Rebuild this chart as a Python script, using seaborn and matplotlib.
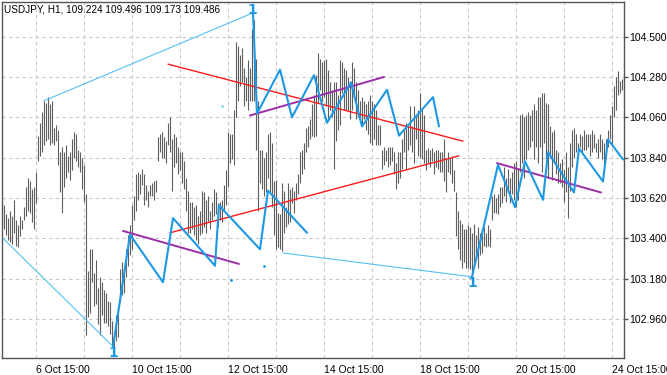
"""
USDJPY H1 - barras com zigzag e linhas de tendencia
"""

import numpy as np
import pandas as pd
import matplotlib
matplotlib.use('Agg')
import matplotlib.pyplot as plt
import seaborn as sns

symbol_text = "USDJPY, H1, 109.224 109.496 109.173 109.486"

# maxima / minima de cada barra H1 (310 barras)
highs = [
    103.58, 103.53, 103.51, 103.55, 103.52, 103.61, 103.50, 103.47, 103.52, 103.50,
    103.57, 103.68, 103.73, 103.71, 103.67, 103.68, 103.76, 103.96, 104.03, 104.09,
    104.15, 104.14, 104.17, 104.13, 104.15, 104.00, 104.02, 103.99, 103.87, 103.90,
    103.87, 103.91, 103.85, 103.87, 103.94, 103.98, 103.97, 103.88, 103.87, 103.84,
    103.80, 103.64, 103.22, 103.34, 103.34, 103.21, 103.28, 103.13, 103.19, 103.16,
    103.12, 103.10, 103.06, 103.05, 102.95, 102.87, 102.98, 103.02, 103.23, 103.27,
    103.24, 103.34, 103.42, 103.47, 103.58, 103.63, 103.75, 103.76, 103.75, 103.78,
    103.75, 103.69, 103.66, 103.69, 103.70, 103.71, 103.72, 103.95, 103.97, 103.98,
    103.95, 103.93, 104.03, 104.06, 103.94, 103.97, 103.95, 103.90, 103.87, 103.87,
    103.82, 103.73, 103.66, 103.60, 103.60, 103.57, 103.58, 103.52, 103.55, 103.66,
    103.65, 103.61, 103.63, 103.55, 103.60, 103.67, 103.65, 103.59, 103.60, 103.61,
    103.69, 103.77, 103.98, 103.97, 103.97, 104.10, 104.47, 104.45, 104.40, 104.44,
    104.33, 104.28, 104.37, 104.33, 104.54, 104.59, 104.38, 104.15, 103.88, 103.88,
    103.84, 103.87, 103.97, 103.98, 103.92, 103.71, 103.72, 103.54, 103.53, 103.70,
    103.66, 103.57, 103.70, 103.67, 103.68, 103.66, 103.70, 103.75, 103.87, 103.88,
    103.92, 104.00, 104.01, 104.05, 104.13, 104.18, 104.29, 104.41, 104.38, 104.36,
    104.37, 104.38, 104.32, 104.25, 104.21, 104.25, 104.25, 104.18, 104.37, 104.36,
    104.33, 104.32, 104.28, 104.26, 104.36, 104.33, 104.25, 104.21, 104.15, 104.17,
    104.15, 104.13, 104.15, 104.18, 104.15, 104.13, 104.10, 104.02, 104.02, 103.88,
    103.90, 103.88, 103.90, 103.90, 103.90, 103.87, 103.81, 103.87, 103.87, 103.94,
    103.99, 104.03, 104.01, 104.12, 104.01, 104.12, 104.07, 104.10, 104.19, 104.10,
    104.07, 103.88, 103.89, 103.88, 103.89, 103.87, 103.88, 103.88, 103.87, 103.87,
    103.94, 103.84, 103.87, 103.84, 103.85, 103.77, 103.65, 103.55, 103.50, 103.48,
    103.45, 103.45, 103.47, 103.46, 103.43, 103.48, 103.42, 103.46, 103.43, 103.45,
    103.46, 103.43, 103.47, 103.45, 103.63, 103.64, 103.62, 103.64, 103.68, 103.68,
    103.79, 103.73, 103.78, 103.73, 103.76, 103.81, 103.82, 103.78, 104.07, 104.08,
    104.06, 104.07, 104.09, 104.07, 104.10, 104.13, 104.10, 104.17, 104.17, 104.19,
    104.19, 104.14, 104.13, 104.01, 103.98, 103.99, 103.88, 103.87, 103.81, 103.83,
    103.77, 103.87, 103.79, 103.92, 103.99, 104.00, 103.97, 103.92, 103.97, 103.96,
    103.99, 103.97, 103.97, 103.97, 103.99, 103.97, 103.92, 103.94, 103.97, 103.94,
    103.92, 103.94, 103.99, 104.07, 104.12, 104.23, 104.28, 104.31, 104.26, 104.27,
]
lows = [
    103.45, 103.42, 103.39, 103.38, 103.37, 103.43, 103.36, 103.35, 103.41, 103.45,
    103.50, 103.52, 103.55, 103.54, 103.49, 103.45, 103.59, 103.82, 103.85, 103.87,
    103.91, 103.93, 103.94, 103.91, 103.92, 103.91, 103.93, 103.80, 103.65, 103.54,
    103.68, 103.73, 103.76, 103.72, 103.77, 103.84, 103.82, 103.79, 103.76, 103.67,
    103.60, 102.87, 102.97, 102.99, 103.16, 103.03, 103.04, 102.93, 102.87, 102.98,
    102.94, 102.94, 102.92, 102.88, 102.82, 102.80, 102.84, 102.86, 103.05, 103.09,
    103.10, 103.19, 103.25, 103.31, 103.34, 103.50, 103.55, 103.61, 103.64, 103.69,
    103.58, 103.61, 103.57, 103.63, 103.63, 103.61, 103.65, 103.82, 103.87, 103.84,
    103.84, 103.81, 103.91, 103.87, 103.66, 103.79, 103.81, 103.75, 103.77, 103.70,
    103.67, 103.55, 103.43, 103.43, 103.45, 103.42, 103.39, 103.37, 103.42, 103.43,
    103.46, 103.43, 103.49, 103.45, 103.50, 103.52, 103.53, 103.46, 103.50, 103.49,
    103.55, 103.58, 103.68, 103.81, 103.83, 103.80, 104.06, 104.15, 104.23, 104.25,
    104.12, 104.15, 104.10, 104.15, 104.15, 104.15, 103.88, 103.55, 103.70, 103.67,
    103.63, 103.65, 103.73, 103.65, 103.57, 103.42, 103.34, 103.35, 103.34, 103.33,
    103.43, 103.46, 103.48, 103.49, 103.59, 103.54, 103.61, 103.64, 103.70, 103.75,
    103.78, 103.87, 103.90, 103.94, 103.96, 103.95, 103.96, 104.14, 104.21, 104.15,
    104.17, 104.12, 104.05, 104.10, 104.06, 103.78, 103.93, 103.99, 104.02, 104.19,
    104.10, 104.10, 104.10, 104.05, 104.10, 104.17, 104.05, 104.06, 104.03, 104.01,
    104.05, 103.99, 103.97, 103.92, 103.91, 103.94, 103.91, 103.91, 103.91, 103.78,
    103.80, 103.82, 103.79, 103.80, 103.82, 103.75, 103.67, 103.70, 103.73, 103.78,
    103.87, 103.78, 103.88, 103.91, 103.87, 103.81, 103.94, 103.85, 103.84, 103.83,
    103.81, 103.77, 103.81, 103.79, 103.82, 103.75, 103.79, 103.78, 103.76, 103.76,
    103.71, 103.65, 103.76, 103.75, 103.70, 103.66, 103.41, 103.34, 103.28, 103.24,
    103.27, 103.24, 103.24, 103.23, 103.19, 103.25, 103.29, 103.24, 103.31, 103.32,
    103.36, 103.35, 103.36, 103.35, 103.50, 103.54, 103.54, 103.53, 103.57, 103.59,
    103.63, 103.60, 103.65, 103.59, 103.64, 103.61, 103.57, 103.61, 103.76, 103.81,
    103.73, 103.83, 103.88, 103.90, 103.93, 103.83, 103.90, 103.81, 103.90, 103.76,
    103.92, 103.83, 103.73, 103.84, 103.72, 103.82, 103.75, 103.70, 103.70, 103.68,
    103.60, 103.65, 103.51, 103.66, 103.79, 103.84, 103.87, 103.84, 103.90, 103.87,
    103.88, 103.88, 103.90, 103.85, 103.87, 103.89, 103.87, 103.84, 103.87, 103.83,
    103.81, 103.83, 103.90, 103.94, 103.91, 104.06, 104.10, 104.18, 104.19, 104.21,
]

# eixo x: rotulos de data (indice da barra)
date_bars = [16, 64, 112, 160, 208, 256, 304]
date_labels = ['6 Oct 15:00', '10 Oct 15:00', '12 Oct 15:00', '14 Oct 15:00',
               '18 Oct 15:00', '20 Oct 15:00', '24 Oct 15:00']
day_bars = [40, 88, 136, 184, 232, 280]
price_ticks = [102.96, 103.18, 103.40, 103.62, 103.84, 104.06, 104.28, 104.50]

# zigzag (indice da barra, preco)
zz1_bar = [54.5, 63, 79.5, 84.5, 105.5, 107.5, 128, 132, 151.5]
zz1_price = [102.81, 103.42, 103.16, 103.51, 103.25, 103.58, 103.34, 103.66, 103.43]
zz2_bar = [124.5, 126.5, 138, 144, 155, 161.5, 173.5, 179, 191.5, 197.5, 214.5, 217.5]
zz2_price = [104.63, 104.08, 104.32, 104.06, 104.29, 104.03, 104.25, 104.01, 104.21,
             103.96, 104.17, 104.01]
zz3_bar = [234, 247, 255.5, 260.5, 269.5, 272, 285, 287.5, 299.5, 302, 309.5]
zz3_price = [103.19, 103.80, 103.57, 103.82, 103.61, 103.87, 103.65, 103.89, 103.71,
             103.94, 103.83]

# linhas finas azul claro entre pivots
pivot_lines = [[(-0.5, 103.40), (54.5, 102.81)],
               [(20, 104.15), (124.5, 104.63)],
               [(139.5, 103.32), (234, 103.19)]]
# canal vermelho
red_lines = [[(82, 104.35), (229.5, 103.93)],
             [(83, 103.43), (227.5, 103.85)]]
# linhas roxas
purple_lines = [[(59.5, 103.44), (117.5, 103.26)],
                [(123, 104.07), (190, 104.28)],
                [(246.5, 103.81), (298.5, 103.65)]]
# pontos soltos
dot_bar = [113.5, 130]
dot_price = [103.17, 103.25]
faint_dot_bar = [109]
faint_dot_price = [104.12]
# marcadores "1" (indice, preco do texto)
mark_bar = [54.5, 124, 234]
mark_price = [102.774, 104.645, 103.156]

ZZ_COLOR = '#1E98E4'
LIGHT_BLUE = '#55C2F2'
RED = '#FF1A1A'
PURPLE = '#9C2EA6'
BAR_COLOR = '#5E5E5E'


def segments_frame(lines):
    rows = []
    for k, line in enumerate(lines):
        for b, p in line:
            rows.append({'bar': b, 'price': p, 'seg': k})
    return pd.DataFrame(rows)


def draw_chart():
    sns.set_style('white')
    plt.rcParams['font.family'] = ['Liberation Sans', 'DejaVu Sans']

    fig = plt.figure(figsize=(6.67, 3.75), dpi=100)
    ax = fig.add_axes([2 / 667, 17 / 375, 622 / 667, 356 / 375])

    n = len(highs)
    idx = np.arange(n)
    ax.vlines(idx, lows, highs, color=BAR_COLOR, lw=0.8, zorder=2)

    zz = segments_frame([list(zip(zz1_bar, zz1_price)),
                         list(zip(zz2_bar, zz2_price)),
                         list(zip(zz3_bar, zz3_price))])
    sns.lineplot(data=zz, x='bar', y='price', units='seg', estimator=None, sort=False,
                 color=ZZ_COLOR, lw=1.5, ax=ax, legend=False, zorder=4)
    sns.lineplot(data=segments_frame(pivot_lines), x='bar', y='price', units='seg',
                 estimator=None, sort=False, color=LIGHT_BLUE, lw=0.8, ax=ax,
                 legend=False, zorder=3)
    sns.lineplot(data=segments_frame(red_lines), x='bar', y='price', units='seg',
                 estimator=None, sort=False, color=RED, lw=1.0, ax=ax,
                 legend=False, zorder=3)
    sns.lineplot(data=segments_frame(purple_lines), x='bar', y='price', units='seg',
                 estimator=None, sort=False, color=PURPLE, lw=1.4, ax=ax,
                 legend=False, zorder=3)
    sns.scatterplot(x=dot_bar, y=dot_price, color=ZZ_COLOR, s=4, linewidth=0, ax=ax, zorder=4)
    sns.scatterplot(x=faint_dot_bar, y=faint_dot_price, color='#8fd6f6', s=4, linewidth=0,
                    ax=ax, zorder=4)

    for b, p in zip(mark_bar, mark_price):
        ax.text(b, p, '1', color=ZZ_COLOR, fontsize=10, fontweight='bold',
                ha='center', va='center', family='DejaVu Sans', zorder=5)

    ax.set_xlim(-1, 310)
    ax.set_ylim(102.747, 104.689)

    ax.set_xticks(date_bars)
    ax.set_xticklabels(date_labels)
    ax.set_xticks(day_bars, minor=True)
    plt.setp(ax.get_xticklabels(), ha='left')
    ax.yaxis.tick_right()
    ax.set_yticks(price_ticks)
    ax.set_yticklabels([f'{p:.3f}' for p in price_ticks])

    ax.tick_params(axis='x', which='major', length=4, width=1, color='#555555',
                   pad=1, labelsize=7.5, labelcolor='black')
    ax.tick_params(axis='x', which='minor', length=0)
    ax.tick_params(axis='y', length=3, width=1, color='#555555', pad=1,
                   labelsize=7.5, labelcolor='black')

    ax.set_axisbelow(True)
    ax.grid(True, which='both', color='#c8c8c8', ls=(0, (3, 3)), lw=0.8)
    for s in ax.spines.values():
        s.set_visible(True)
        s.set_color('#555555')
        s.set_linewidth(1)
    ax.set_xlabel('')
    ax.set_ylabel('')

    fig.text(4 / 667, 1 - 10 / 375, symbol_text, fontsize=7.2, color='black',
             ha='left', va='center')

    fig.savefig('out.png', dpi=100)


if __name__ == "__main__":
    draw_chart()
